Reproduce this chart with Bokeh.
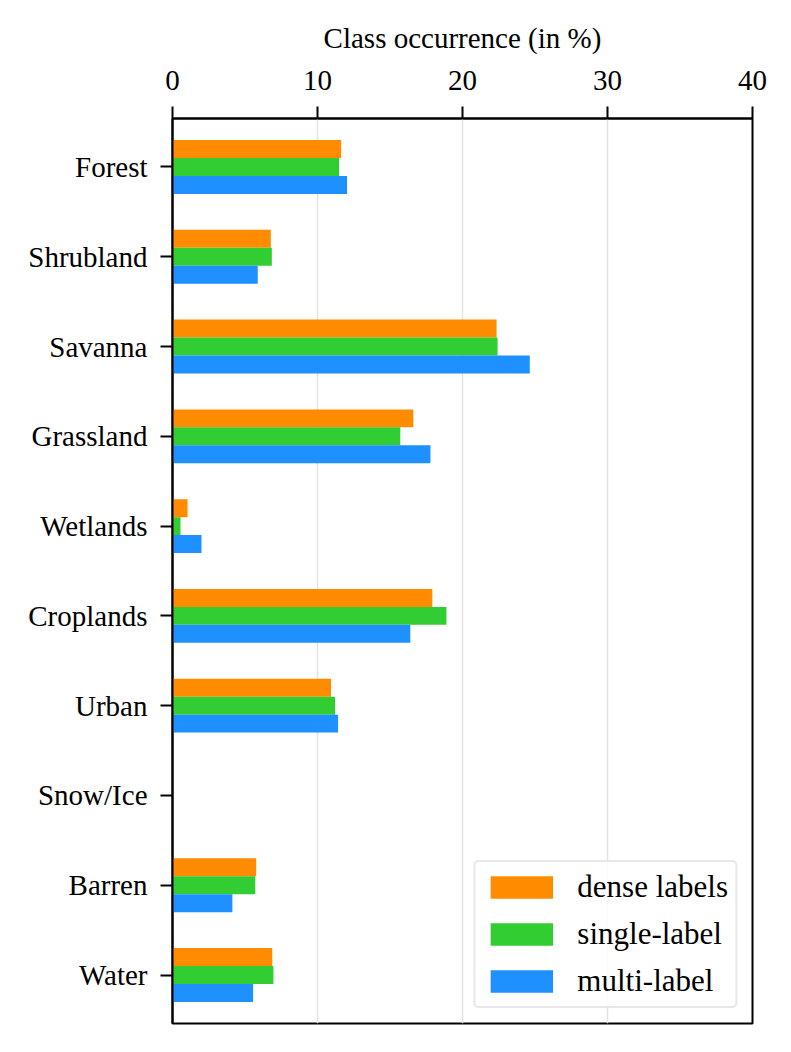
from bokeh.plotting import figure
from bokeh.models import Range1d, FixedTicker, Legend, LegendItem, ColumnDataSource
from bokeh.transform import dodge
from bokeh.embed import file_html
from bokeh.resources import INLINE

categories = ["Forest", "Shrubland", "Savanna", "Grassland", "Wetlands",
              "Croplands", "Urban", "Snow/Ice", "Barren", "Water"]
dense_labels = [11.63, 6.78, 22.35, 16.61, 1.04, 17.92, 10.93, 0.0, 5.77, 6.88]
single_label = [11.49, 6.85, 22.42, 15.71, 0.55, 18.89, 11.21, 0.0, 5.71, 6.96]
multi_label = [12.04, 5.88, 24.64, 17.79, 2.00, 16.40, 11.42, 0.0, 4.13, 5.56]
x_ticks = [0, 10, 20, 30, 40]

FONT = "Liberation Serif"
FS = "29px"

src = ColumnDataSource(dict(
    y=list(range(len(categories))),
    dense=dense_labels, single=single_label, multi=multi_label,
))

p = figure(width=780, height=1044, output_backend="svg", toolbar_location=None,
           x_axis_location="above",
           x_range=Range1d(0, 40),
           y_range=Range1d(len(categories) - 1 + 0.54, -0.54),
           min_border_left=172, min_border_top=118, min_border_right=28,
           min_border_bottom=21)

r1 = p.hbar(y=dodge("y", -0.2, range=p.y_range), right="dense", left=0, height=0.2,
            source=src, fill_color="#FF8C00", line_color=None)
r2 = p.hbar(y=dodge("y", 0.0, range=p.y_range), right="single", left=0, height=0.2,
            source=src, fill_color="#32CD32", line_color=None)
r3 = p.hbar(y=dodge("y", 0.2, range=p.y_range), right="multi", left=0, height=0.2,
            source=src, fill_color="#1E90FF", line_color=None)

p.xaxis.ticker = FixedTicker(ticks=x_ticks)
p.yaxis.ticker = FixedTicker(ticks=list(range(len(categories))))
p.yaxis.major_label_overrides = {i: c for i, c in enumerate(categories)}

p.xaxis.axis_label = "Class occurrence (in %)"
for ax in (p.xaxis[0], p.yaxis[0]):
    ax.axis_label_text_font = FONT
    ax.axis_label_text_font_style = "normal"
    ax.axis_label_text_font_size = FS
    ax.major_label_text_font = FONT
    ax.major_label_text_font_size = FS
    ax.major_label_text_color = "black"
    ax.axis_label_text_color = "black"
    ax.axis_line_width = 2
    ax.axis_line_color = "black"
    ax.major_tick_line_width = 2
    ax.major_tick_line_color = "black"
    ax.major_tick_out = 12
    ax.major_tick_in = 0
    ax.minor_tick_line_color = None
p.xaxis.major_label_standoff = 17
p.yaxis.major_label_standoff = 13
p.xaxis.axis_label_standoff = 14

p.xgrid.grid_line_color = "#e3e3e3"
p.xgrid.grid_line_width = 1.5
p.ygrid.grid_line_color = None
p.outline_line_color = "black"
p.outline_line_width = 2
p.outline_line_alpha = 1

legend = Legend(items=[
    LegendItem(label="dense labels", renderers=[r1]),
    LegendItem(label="single-label", renderers=[r2]),
    LegendItem(label="multi-label", renderers=[r3]),
], location="bottom_right")
legend.label_text_font = FONT
legend.label_text_font_size = "31px"
legend.label_text_color = "black"
legend.glyph_width = 78
legend.glyph_height = 28
legend.label_standoff = 17
legend.spacing = 11
legend.padding = 7
legend.margin = 15
legend.border_line_color = "#d0d0d0"
legend.border_line_width = 2.5
legend.background_fill_alpha = 0.85
if "border_radius" in Legend.properties():
    legend.border_radius = 5
p.add_layout(legend)

open("out.html", "w").write(file_html(p, INLINE))
